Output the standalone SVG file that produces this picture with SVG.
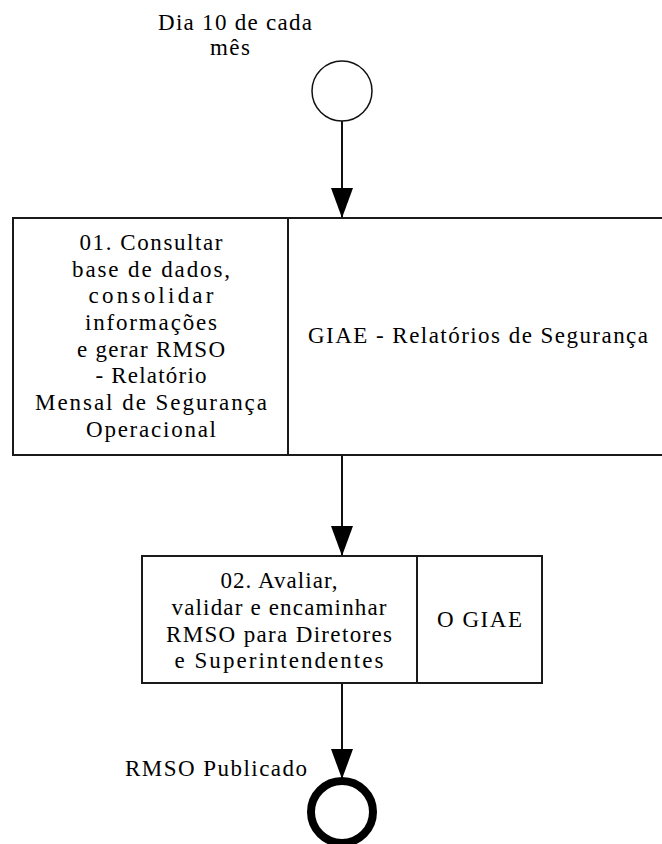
<svg xmlns="http://www.w3.org/2000/svg" width="662" height="844" viewBox="0 0 662 844">
<style>
text{font-family:"Liberation Serif","Times New Roman","DejaVu Serif",serif;font-size:23px;fill:#000;text-anchor:middle}
.box{fill:#fff;stroke:#1a1a1a;stroke-width:2}
.conn{stroke:#111;stroke-width:2;fill:none}
</style>
<defs>
<marker id="arr" markerUnits="userSpaceOnUse" markerWidth="30" markerHeight="22" viewBox="0 0 30 22" refX="30" refY="11" orient="auto">
<path d="M0,0 L30,11 L0,22 z" fill="#000"/>
</marker>
</defs>
<rect width="662" height="844" fill="#fff"/>
<g id="connectors">
<line class="conn" x1="342" y1="121" x2="342" y2="218" marker-end="url(#arr)"/>
<line class="conn" x1="342" y1="455" x2="342" y2="556" marker-end="url(#arr)"/>
<line class="conn" x1="342" y1="683" x2="342" y2="779" marker-end="url(#arr)"/>
</g>
<g id="start">
<circle cx="342" cy="91" r="30" fill="#fff" stroke="#111" stroke-width="1.5"/>
<text font-family="Liberation Serif, serif" x="235" y="30" textLength="154" lengthAdjust="spacing">Dia 10 de cada</text>
<text font-family="Liberation Serif, serif" x="230" y="55" textLength="40" lengthAdjust="spacing">mês</text>
</g>
<g id="task1">
<rect class="box" x="13" y="218" width="655" height="237"/>
<line class="box" x1="288" y1="218" x2="288" y2="455"/>
<text x="151" y="250" textLength="143" lengthAdjust="spacing">01. Consultar</text>
<text x="151" y="276.7" textLength="158" lengthAdjust="spacing">base de dados,</text>
<text x="151" y="303.4" textLength="125" lengthAdjust="spacing">consolidar</text>
<text x="151" y="330" textLength="132" lengthAdjust="spacing">informações</text>
<text x="151" y="356.7" textLength="148" lengthAdjust="spacing">e gerar RMSO</text>
<text x="151" y="383.4" textLength="111" lengthAdjust="spacing">- Relatório</text>
<text x="151" y="410" textLength="232" lengthAdjust="spacing">Mensal de Segurança</text>
<text x="151" y="436.8" textLength="130" lengthAdjust="spacing">Operacional</text>
<text x="478" y="343" textLength="340" lengthAdjust="spacing">GIAE - Relatórios de Segurança</text>
</g>
<g id="task2">
<rect class="box" x="142" y="556" width="400" height="127"/>
<line class="box" x1="417" y1="556" x2="417" y2="683"/>
<text x="279" y="588" textLength="117" lengthAdjust="spacing">02. Avaliar,</text>
<text x="279" y="615" textLength="215" lengthAdjust="spacing">validar e encaminhar</text>
<text x="279" y="642" textLength="226" lengthAdjust="spacing">RMSO para Diretores</text>
<text x="279" y="668" textLength="209" lengthAdjust="spacing">e Superintendentes</text>
<text x="479.5" y="627" textLength="85" lengthAdjust="spacing">O GIAE</text>
</g>
<g id="end">
<circle cx="342" cy="812" r="31" fill="#fff" stroke="#000" stroke-width="8"/>
<text x="216" y="776" textLength="182" lengthAdjust="spacing">RMSO Publicado</text>
</g>
</svg>
